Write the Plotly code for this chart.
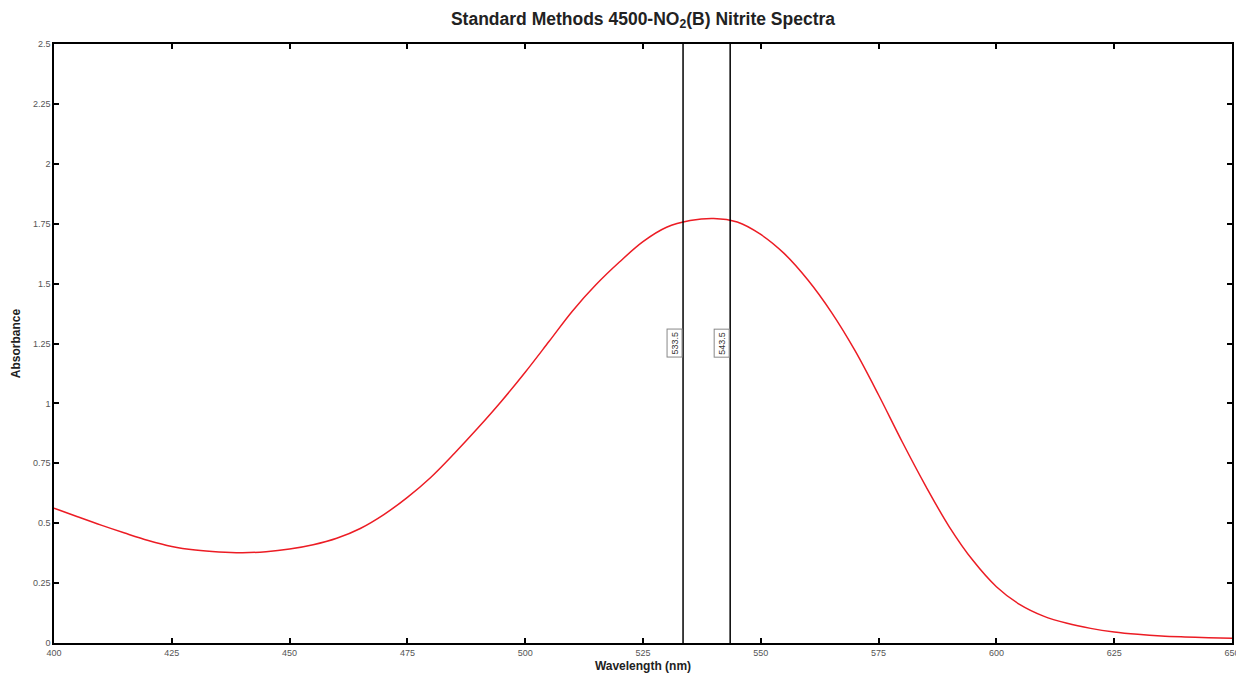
import plotly.graph_objects as go

# Absorbance spectrum (nm, absorbance)
wavelength = [400, 405, 410, 415, 420, 425, 430, 435, 440, 445,
              450, 455, 460, 465, 470, 475, 480, 485, 490, 495,
              500, 505, 510, 515, 520, 525, 530, 535, 540, 545,
              550, 555, 560, 565, 570, 575, 580, 585, 590, 595,
              600, 605, 610, 615, 620, 625, 630, 635, 640, 645, 650]
absorbance = [0.563, 0.527, 0.492, 0.459, 0.428, 0.403, 0.388, 0.380, 0.377, 0.381,
              0.392, 0.41, 0.437, 0.478, 0.536, 0.608, 0.692, 0.792, 0.898, 1.01,
              1.13, 1.257, 1.385, 1.495, 1.59, 1.675, 1.735, 1.763, 1.772, 1.757,
              1.705, 1.625, 1.515, 1.38, 1.22, 1.035, 0.84, 0.655, 0.485, 0.345,
              0.235, 0.16, 0.112, 0.082, 0.061, 0.046, 0.036, 0.029, 0.025, 0.022, 0.02]

markers = [533.5, 543.5]
marker_labels = ["533.5", "543.5"]
marker_label_y = 1.25

x_ticks = [400, 425, 450, 475, 500, 525, 550, 575, 600, 625, 650]
y_ticks = [0, 0.25, 0.5, 0.75, 1, 1.25, 1.5, 1.75, 2, 2.25, 2.5]
y_tick_text = ["0", "0.25", "0.5", "0.75", "1", "1.25", "1.5", "1.75", "2", "2.25", "2.5"]

FONT = "Liberation Sans, Arial, sans-serif"

fig = go.Figure()
fig.add_trace(go.Scatter(
    x=wavelength, y=absorbance, mode="lines",
    line=dict(color="#ec1c24", width=1.5, shape="spline", smoothing=1.0),
    showlegend=False, hoverinfo="x+y"
))

for wl, lab in zip(markers, marker_labels):
    fig.add_vline(x=wl, line=dict(color="black", width=1.5))
    fig.add_annotation(
        x=wl, y=marker_label_y, text=lab, textangle=-90, showarrow=False,
        xanchor="right", yanchor="middle", xshift=-1,
        font=dict(family=FONT, size=9, color="#333"),
        bordercolor="#888", borderwidth=1, borderpad=2, bgcolor="white"
    )

axis_common = dict(
    showline=True, linecolor="black", linewidth=1.5, mirror="ticks",
    ticks="inside", ticklen=5, tickwidth=1.5, tickcolor="black",
    showgrid=False, zeroline=False, automargin=False,
    ticklabeloverflow="allow",
    tickfont=dict(family=FONT, size=9, color="#555"),
)

# the page body keeps an 8px margin, so the figure is sized to fit inside it
fig.update_layout(
    width=1236, height=666,
    paper_bgcolor="white", plot_bgcolor="white",
    margin=dict(l=46, r=12, t=36, b=31),
    title=dict(
        text="<b>Standard Methods 4500-NO<sub>2</sub>(B) Nitrite Spectra</b>",
        x=0.5, xref="paper", xanchor="center",
        y=0.984, yref="container", yanchor="middle",
        font=dict(family=FONT, size=17.5, color="#222")
    ),
    xaxis=dict(
        range=[400, 650], tickvals=x_ticks,
        title=dict(text="<b>Wavelength (nm)</b>", standoff=5,
                   font=dict(family=FONT, size=12, color="#222")),
        **axis_common
    ),
    yaxis=dict(
        range=[0, 2.5], tickvals=y_ticks, ticktext=y_tick_text,
        title=dict(text="<b>Absorbance</b>", standoff=10,
                   font=dict(family=FONT, size=12, color="#222")),
        **axis_common
    ),
)

fig.write_html("out.html")
